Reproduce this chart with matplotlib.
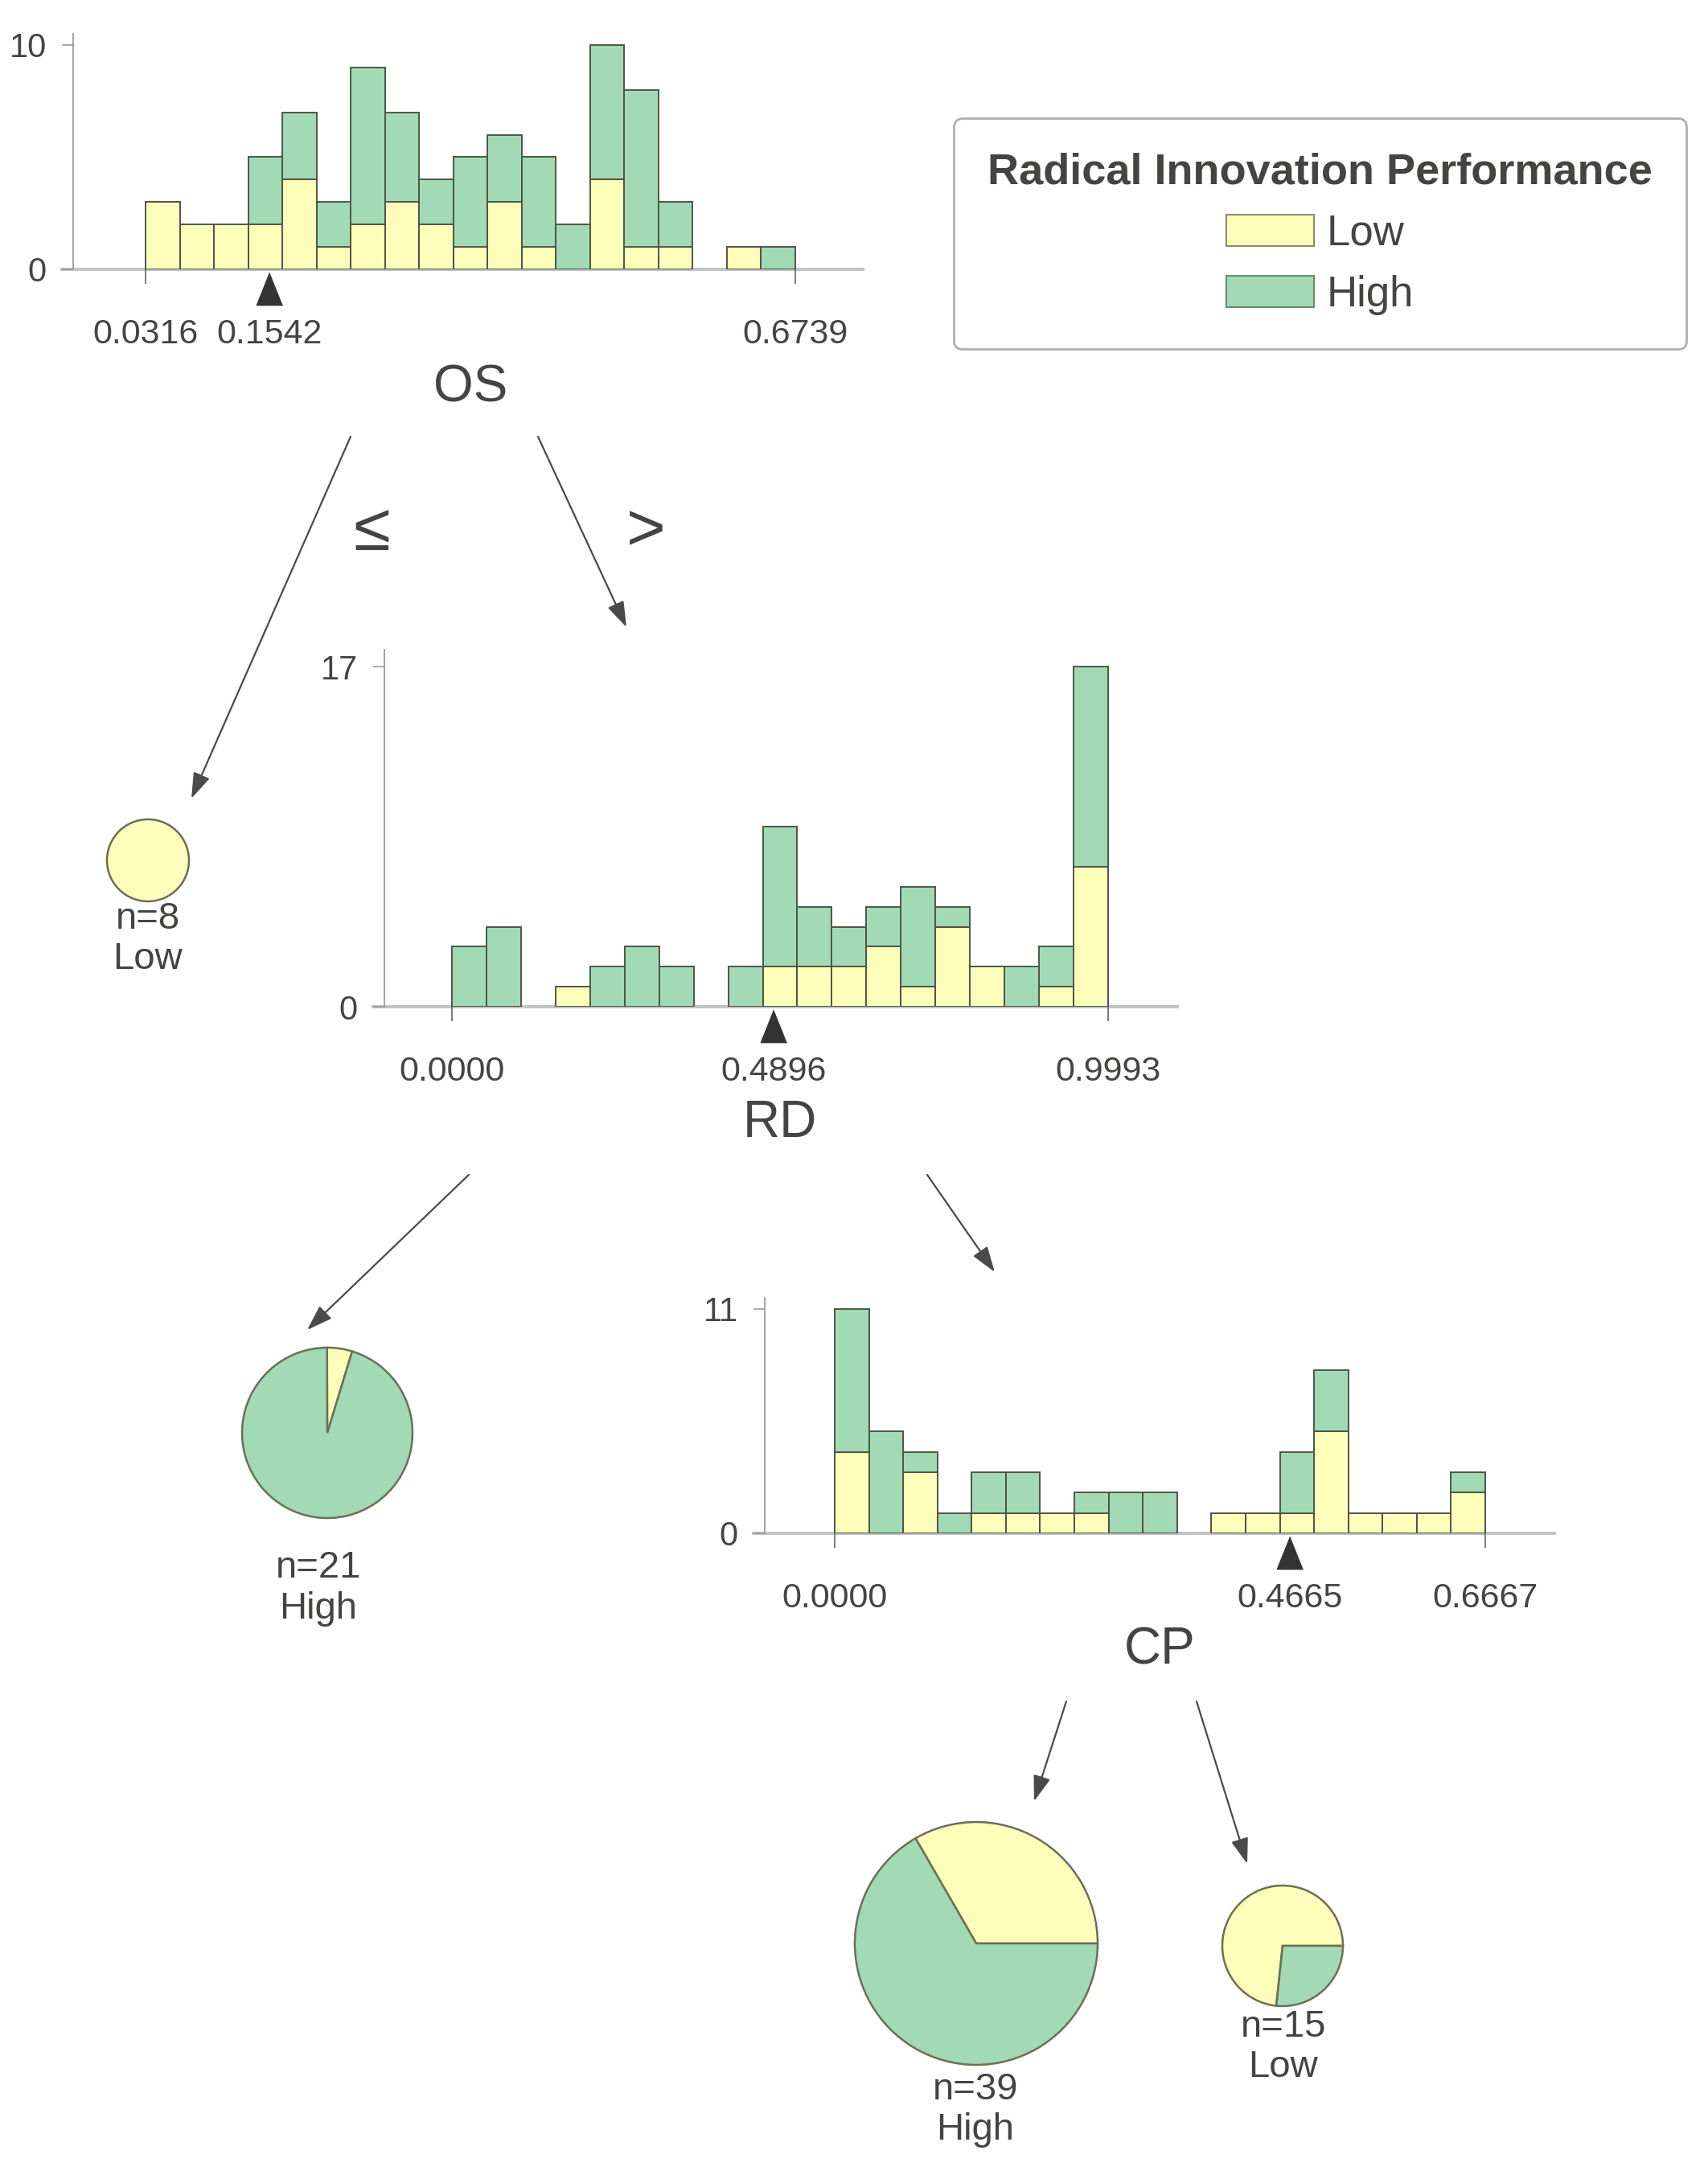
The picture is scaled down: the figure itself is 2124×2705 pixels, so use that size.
import numpy as np
import matplotlib
matplotlib.use("Agg")
import matplotlib.pyplot as plt
from matplotlib.patches import Patch

plt.rcParams['font.family'] = ['Liberation Sans', 'DejaVu Sans']

W, H = 2124, 2705
YELLOW = '#FEFEBB'
GREEN = '#a1dab4'
EDGE = '#4d5546'
TXT = '#444443'

# ---- data ----
class_names = ['Low', 'High']

os_range = (0.0316, 0.6739)
os_split = 0.1542
os_low = [3, 2, 2, 2, 4, 1, 2, 3, 2, 1, 3, 1, 0, 4, 1, 1, 0, 1, 0]
os_high = [0, 0, 0, 3, 3, 2, 7, 4, 2, 4, 3, 4, 2, 6, 7, 2, 0, 0, 1]

rd_range = (0.0, 0.9993)
rd_split = 0.4896
rd_low = [0, 0, 0, 1, 0, 0, 0, 0, 0, 2, 2, 2, 3, 1, 4, 2, 0, 1, 7]
rd_high = [3, 4, 0, 0, 2, 3, 2, 0, 2, 7, 3, 2, 2, 5, 1, 0, 2, 2, 10]

cp_range = (0.0, 0.6667)
cp_split = 0.4665
cp_low = [4, 0, 3, 0, 1, 1, 1, 1, 0, 0, 0, 1, 1, 1, 5, 1, 1, 1, 2]
cp_high = [7, 5, 1, 1, 2, 2, 0, 1, 2, 2, 0, 0, 0, 3, 3, 0, 0, 0, 1]

leaf_n = [8, 21, 39, 15]
leaf_low = [8, 1, 13, 11]
leaf_high = [0, 20, 26, 4]
leaf_pred = ['Low', 'High', 'High', 'Low']

fig = plt.figure(figsize=(W / 100, H / 100), dpi=100)

# background axes in pixel coords (y down) for arrows and labels
bg = fig.add_axes([0, 0, 1, 1])
bg.set_xlim(0, W)
bg.set_ylim(H, 0)
bg.axis('off')


def px_rect(l, t, r, b):
    return [l / W, 1 - b / H, (r - l) / W, (b - t) / H]


def draw_hist(box, data_px, xr, split, low, high, name, name_pos):
    left, top, right, y0 = box
    ax = fig.add_axes(px_rect(left, top, right, y0))
    low = np.array(low)
    high = np.array(high)
    lo, hi = xr
    scale = (hi - lo) / (data_px[1] - data_px[0])
    ax.set_xlim(lo - (data_px[0] - left) * scale, hi + (right - data_px[1]) * scale)
    ymax = (low + high).max()
    ax.set_ylim(0, ymax * 1.05)

    edges = np.linspace(lo, hi, len(low) + 1)
    w = edges[1] - edges[0]
    m = low > 0
    ax.bar(edges[:-1][m], low[m], width=w, align='edge', color=YELLOW,
           edgecolor=EDGE, linewidth=1.4, zorder=3)
    m = high > 0
    ax.bar(edges[:-1][m], high[m], bottom=low[m], width=w, align='edge',
           color=GREEN, edgecolor=EDGE, linewidth=1.4, zorder=3)

    for s in ['top', 'right', 'bottom']:
        ax.spines[s].set_visible(False)
    ax.spines['left'].set_color('#9a9a9a')
    ax.spines['left'].set_linewidth(1.3)
    ax.axhline(0, xmin=-14 / (right - left), xmax=1, color='#c4c4c4',
               linewidth=3, clip_on=False, zorder=1)

    ax.set_yticks([0, ymax])
    ax.set_yticklabels([str(0), str(ymax)])
    ax.tick_params(axis='y', length=10, width=1.2, color='#9a9a9a',
                   labelsize=30, labelcolor=TXT, pad=14)

    ax.set_xticks([lo, split, hi])
    ax.set_xticklabels(['%.4f' % lo, '%.4f' % split, '%.4f' % hi])
    ax.tick_params(axis='x', length=13, width=1.2, color='#666666',
                   labelsize=31, labelcolor=TXT, pad=31)
    ax.xaxis.get_major_ticks()[1].tick1line.set_visible(False)

    # split marker
    ax.plot([split], [-24 / (y0 - top)], transform=ax.get_xaxis_transform(),
            marker=[(0, 1), (-0.8, -1), (0.8, -1)], markersize=29,
            color='#333333', clip_on=False, zorder=5)

    bg.text(name_pos[0], name_pos[1], name, fontsize=46, color=TXT,
            ha='center', va='center')
    ax.set_facecolor('none')
    return ax


draw_hist((91, 42, 1073, 335), (181, 989), os_range, os_split,
          os_low, os_high, 'OS', (585, 483))
draw_hist((478, 808, 1464, 1252), (562, 1378), rd_range, rd_split,
          rd_low, rd_high, 'RD', (970, 1397))
draw_hist((951, 1614, 1933, 1907), (1038, 1847), cp_range, cp_split,
          cp_low, cp_high, 'CP', (1442, 2053))

# leaves
leaf_pos = [(184, 1070, 51), (407, 1782, 106), (1214, 2417, 151), (1595, 2420, 75)]
leaf_start = [0, 73, 0, 0]
leaf_text = [(184, 1143, 1193), (396, 1950, 2001), (1213, 2599, 2649), (1596, 2521, 2571)]
for i in range(len(leaf_n)):
    cx, cy, r = leaf_pos[i]
    pax = fig.add_axes(px_rect(cx - 1.25 * r, cy - 1.25 * r, cx + 1.25 * r, cy + 1.25 * r))
    vals = [leaf_low[i], leaf_high[i]]
    cols = [YELLOW, GREEN]
    keep = [k for k in range(2) if vals[k] > 0]
    pax.pie([vals[k] for k in keep], colors=[cols[k] for k in keep],
            startangle=leaf_start[i], radius=1,
            wedgeprops=dict(edgecolor='#6b6f55', linewidth=1.8))
    tx, ty1, ty2 = leaf_text[i]
    bg.text(tx, ty1, 'n=%d' % leaf_n[i], fontsize=34, color=TXT, ha='center', va='center')
    bg.text(tx, ty2, leaf_pred[i], fontsize=34, color=TXT, ha='center', va='center')

# edges of the tree
edges_px = [((436, 543), (238, 993)),
            ((669, 543), (779, 780)),
            ((583, 1461), (382, 1654)),
            ((1153, 1461), (1237, 1582)),
            ((1326, 2116), (1286, 2240)),
            ((1488, 2116), (1551, 2318))]
for a, b in edges_px:
    bg.annotate('', xy=b, xytext=a,
                arrowprops=dict(arrowstyle='-|>,head_length=0.65,head_width=0.22',
                                color='#4a4a4a', lw=1.6, mutation_scale=30,
                                shrinkA=0, shrinkB=0))

bg.text(462, 662, '\u2264', fontsize=60, color=TXT, ha='center', va='center')
bg.text(803, 662, '>', fontsize=60, color=TXT, ha='center', va='center')

# legend
handles = [Patch(facecolor=YELLOW, edgecolor='#8c8c6a', linewidth=1.5),
           Patch(facecolor=GREEN, edgecolor='#6a8a70', linewidth=1.5)]
leg = fig.legend(handles, class_names, loc='upper left',
                 bbox_to_anchor=(1186 / W, 1 - 147 / H), borderaxespad=0,
                 title='Radical Innovation Performance',
                 title_fontproperties={'weight': 'bold', 'size': 39},
                 fontsize=38, alignment='center', frameon=True,
                 fancybox=True, edgecolor='#9a9a9a', borderpad=0.8,
                 labelspacing=0.5, handlelength=2.05, handleheight=0.75,
                 handletextpad=0.3)
leg.get_frame().set_linewidth(2)
for t in leg.get_texts():
    t.set_color(TXT)
leg.get_title().set_color(TXT)

fig.savefig('out.png', dpi=100, facecolor='white')
